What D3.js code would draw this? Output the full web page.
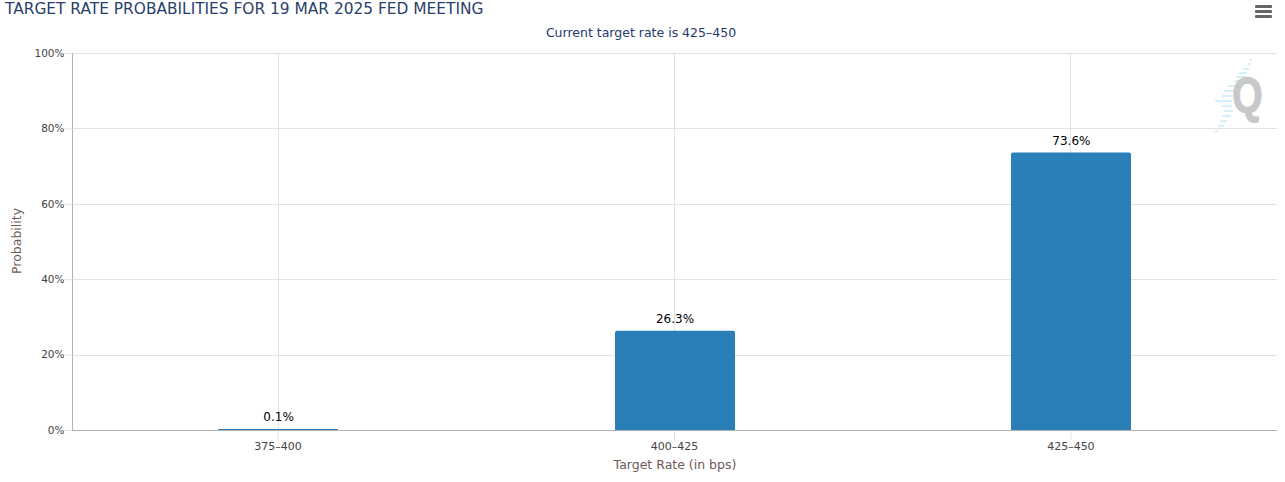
<!DOCTYPE html>
<html>
<head>
<meta charset="utf-8">
<script src="https://d3js.org/d3.v7.min.js"></script>
<style>
  html, body { margin: 0; padding: 0; background: #fff; }
  svg { display: block; }
  text { font-family: "DejaVu Sans", sans-serif; }
  .domain { fill: none; }
</style>
</head>
<body>
<div id="chart"></div>
<script>
var categories = ["375-400", "400-425", "425-450"];
var probabilities = [0.1, 26.3, 73.6];
var yTicks = [0, 20, 40, 60, 80, 100];

var width = 1285, height = 482;
var left = 72, right = 1277, top_ = 53, bottom = 430;
var barWidth = 120;

var svg = d3.select("#chart").append("svg")
  .attr("width", width).attr("height", height);

var x = d3.scalePoint().domain(categories).range([left, right]).padding(0.52);
var y = d3.scaleLinear().domain([0, 100]).range([bottom, top_]);

// small bars still paint one pixel
function barTop(d) { return Math.min(y(d), bottom - 1) }

// grid
svg.append("g").selectAll("line").data(yTicks.slice(1)).join("line")
  .attr("x1", left).attr("x2", right)
  .attr("y1", function(d) { return Math.round(y(d)) + 0.5 })
  .attr("y2", function(d) { return Math.round(y(d)) + 0.5 })
  .attr("stroke", "#e2e2e2");
svg.append("g").selectAll("line").data(categories).join("line")
  .attr("x1", function(d) { return Math.floor(x(d)) + 0.5 })
  .attr("x2", function(d) { return Math.floor(x(d)) + 0.5 })
  .attr("y1", top_).attr("y2", bottom)
  .attr("stroke", "#e2e2e2");

// logo
var logo = svg.append("g");
var stripes = [[1250,59,2],[1248,63,3],[1243,68,6],[1239,72,8],[1236,76,10],[1234,80,9],[1228,85,9],
  [1224,90,11],[1222,95,11],[1215,100,17],[1222,105,10],[1224,110,9],[1222,115,9],[1220,120,7],[1218,125,6],[1215,130,3]];
logo.selectAll("rect").data(stripes).join("rect")
  .attr("x", function(d) { return d[0] }).attr("y", function(d) { return d[1] })
  .attr("width", function(d) { return d[2] }).attr("height", 2)
  .attr("fill", "#d6f0fb");
logo.append("text").attr("transform", "translate(1247.5,113) scale(0.78,1)")
  .attr("text-anchor", "middle")
  .attr("font-size", 50).attr("font-weight", "bold")
  .style("font-family", "'Liberation Sans', sans-serif")
  .attr("fill", "#c8c8c8").attr("stroke", "#c8c8c8").attr("stroke-width", 1.2)
  .text("Q");

// bars, rounded on top only
svg.append("g").selectAll("path").data(probabilities).join("path")
  .attr("d", function(d, i) {
    var x0 = Math.round(x(categories[i]) - barWidth / 2), x1 = x0 + barWidth, y0 = barTop(d);
    var r = Math.min(2, bottom - y0);
    return "M" + x0 + "," + bottom + "V" + (y0 + r) + "Q" + x0 + "," + y0 + " " + (x0 + r) + "," + y0 +
      "H" + (x1 - r) + "Q" + x1 + "," + y0 + " " + x1 + "," + (y0 + r) + "V" + bottom + "Z";
  })
  .attr("fill", "#2a7fb8");

// axes
var yAxis = d3.axisLeft(y).tickValues(yTicks).tickSize(8).tickPadding(0)
  .tickFormat(function(d) { return d + "%" });
var yG = svg.append("g").attr("transform", "translate(" + (left + 0.5) + ",0)").call(yAxis);
yG.select(".domain").attr("d", "M0," + top_ + "V" + bottom).attr("stroke", "#b0b0b0");
yG.selectAll(".tick line").attr("stroke", "#e2e2e2");
yG.selectAll(".tick text").attr("font-size", 10.5).attr("fill", "#444")
  .style("font-family", "'DejaVu Sans', sans-serif");

var xAxis = d3.axisBottom(x).tickSize(10).tickPadding(2)
  .tickFormat(function(d) { return d.replace("-", "\u2013") });
var xG = svg.append("g").attr("transform", "translate(-0.5," + (bottom + 0.5) + ")").call(xAxis);
xG.select(".domain").attr("d", "M" + left + ",0H" + (right + 0.5)).attr("stroke", "#b0b0b0");
xG.selectAll(".tick line").attr("stroke", "#e2e2e2");
xG.selectAll(".tick text").attr("font-size", 11).attr("fill", "#444")
  .style("font-family", "'DejaVu Sans', sans-serif");

// value labels
svg.append("g").selectAll("text").data(probabilities).join("text")
  .attr("x", function(d, i) { return x(categories[i]) + 0.5 })
  .attr("y", function(d) { return barTop(d) - 8 })
  .attr("text-anchor", "middle")
  .attr("font-size", 12).attr("fill", "#000")
  .text(function(d) { return d3.format(".1f")(d) + "%" });

// titles
svg.append("text").attr("x", 5).attr("y", 14)
  .attr("font-size", 15.4).attr("fill", "#2a3f6a")
  .text("TARGET RATE PROBABILITIES FOR 19 MAR 2025 FED MEETING");
svg.append("text").attr("x", 641).attr("y", 37).attr("text-anchor", "middle")
  .attr("font-size", 12.5).attr("fill", "#1f3a6e")
  .text("Current target rate is 425\u2013450");
svg.append("text").attr("x", 675).attr("y", 469).attr("text-anchor", "middle")
  .attr("font-size", 12.5).attr("fill", "#6e5a55")
  .text("Target Rate (in bps)");
svg.append("text").attr("transform", "translate(21,241) rotate(-90)").attr("text-anchor", "middle")
  .attr("font-size", 12.5).attr("fill", "#6e5a55")
  .text("Probability");

// export menu icon
svg.append("g").selectAll("rect").data([0, 1, 2]).join("rect")
  .attr("x", 1255).attr("y", function(d) { return 5 + d * 5 })
  .attr("width", 17).attr("height", 3).attr("rx", 1)
  .attr("fill", "#666");
</script>
</body>
</html>
